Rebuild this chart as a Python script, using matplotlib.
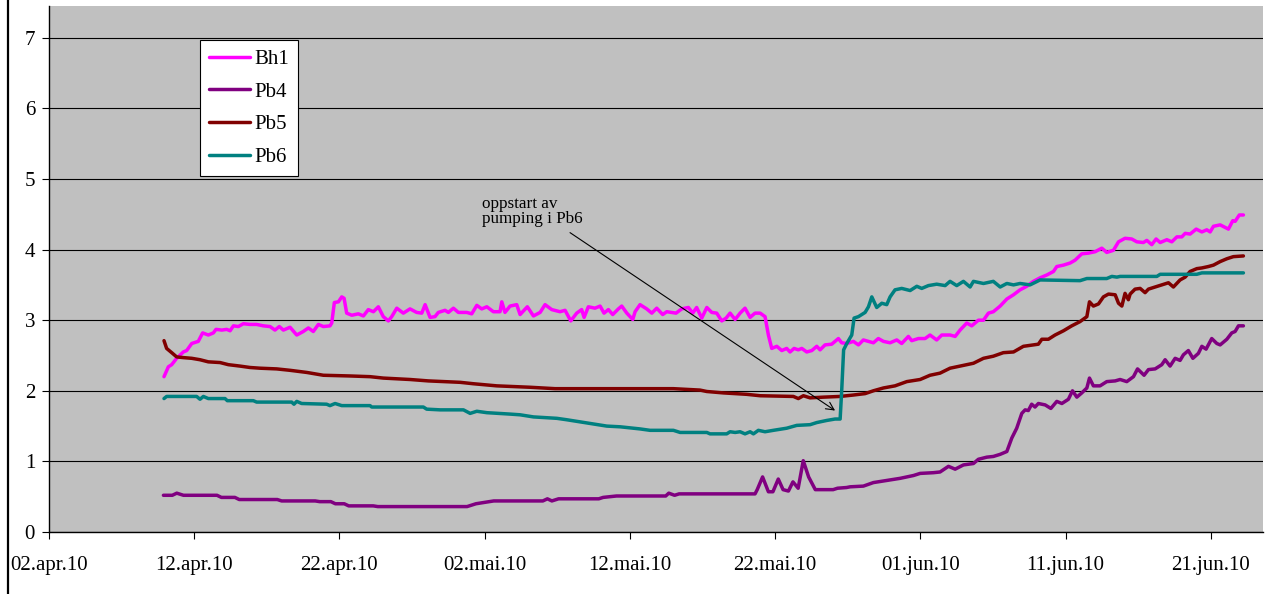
import matplotlib
matplotlib.use("Agg")
import matplotlib.pyplot as plt
import matplotlib.dates as mdates
from matplotlib.lines import Line2D
from matplotlib.ticker import FixedLocator, FixedFormatter
import numpy as np
import pandas as pd

# ---- measurements: days after 02.04.2010 and water level ----
bh1_days = [7.92, 8.22, 8.45, 8.79, 9.25, 9.48, 9.83, 10.28, 10.58, 10.97, 11.32, 11.50, 11.90, 12.24,
            12.47, 12.70, 13.04, 13.38, 13.84, 14.30, 14.76, 15.22, 15.56, 15.86, 16.14, 16.60, 17.06,
            17.51, 17.86, 18.20, 18.55, 18.89, 19.35, 19.47, 19.65, 19.93, 20.16, 20.32, 20.50, 20.85,
            21.30, 21.65, 21.99, 22.34, 22.68, 23.02, 23.37, 23.60, 23.95, 24.40, 24.86, 25.32, 25.67,
            25.90, 26.24, 26.58, 26.81, 27.27, 27.50, 27.85, 28.19, 28.77, 29.11, 29.46, 29.80, 30.15,
            30.60, 31.06, 31.18, 31.40, 31.75, 32.21, 32.44, 32.94, 33.36, 33.82, 34.16, 34.62, 35.19,
            35.54, 35.93, 36.34, 36.68, 36.85, 37.14, 37.60, 37.95, 38.22, 38.52, 38.82, 39.21, 39.44,
            39.79, 40.20, 40.36, 40.70, 41.16, 41.51, 41.85, 42.26, 42.54, 42.88, 43.18, 43.57, 44.03,
            44.33, 44.60, 44.95, 45.30, 45.64, 45.98, 46.33, 46.63, 46.90, 47.25, 47.59, 47.93, 48.28,
            48.62, 48.97, 49.31, 49.54, 49.77, 50.12, 50.46, 50.80, 51.03, 51.31, 51.60, 51.84, 52.18,
            52.53, 52.87, 53.10, 53.44, 53.90, 54.36, 54.59, 54.94, 55.39, 55.74, 56.08, 56.43, 56.77,
            57.11, 57.46, 57.92, 58.38, 58.72, 59.18, 59.41, 59.87, 60.33, 60.67, 61.13, 61.48, 62.05,
            62.40, 62.74, 63.20, 63.54, 64.00, 64.35, 64.69, 65.03, 65.50, 65.96, 66.42, 66.87, 67.33,
            67.79, 68.25, 68.71, 69.17, 69.40, 69.86, 70.32, 70.66, 71.12, 71.58, 72.04, 72.50, 72.84,
            73.30, 73.65, 74.10, 74.56, 74.91, 75.36, 75.60, 75.94, 76.24, 76.52, 76.98, 77.32, 77.67,
            78.01, 78.24, 78.58, 79.00, 79.39, 79.73, 79.96, 80.19, 80.65, 81.22, 81.52, 81.68, 81.97,
            82.25]
bh1_vals = [2.20, 2.34, 2.37, 2.46, 2.55, 2.57, 2.67, 2.70, 2.82, 2.79, 2.82, 2.87, 2.86, 2.87,
            2.85, 2.92, 2.91, 2.95, 2.94, 2.94, 2.92, 2.91, 2.86, 2.91, 2.86, 2.90, 2.79,
            2.84, 2.89, 2.84, 2.94, 2.91, 2.92, 2.96, 3.25, 3.26, 3.33, 3.31, 3.10, 3.07,
            3.09, 3.06, 3.15, 3.12, 3.19, 3.05, 2.99, 3.05, 3.17, 3.10, 3.16, 3.11, 3.10,
            3.22, 3.04, 3.05, 3.11, 3.14, 3.11, 3.17, 3.11, 3.11, 3.09, 3.21, 3.16, 3.19,
            3.12, 3.12, 3.26, 3.11, 3.20, 3.22, 3.08, 3.19, 3.06, 3.11, 3.22, 3.15, 3.12,
            3.14, 2.99, 3.10, 3.15, 3.04, 3.19, 3.17, 3.20, 3.10, 3.15, 3.08, 3.16, 3.20,
            3.10, 3.01, 3.12, 3.22, 3.16, 3.10, 3.17, 3.08, 3.12, 3.11, 3.10, 3.16, 3.18,
            3.10, 3.18, 3.03, 3.18, 3.11, 3.10, 2.99, 3.03, 3.10, 3.01, 3.10, 3.17, 3.04,
            3.10, 3.10, 3.05, 2.79, 2.60, 2.63, 2.57, 2.60, 2.55, 2.60, 2.58, 2.60, 2.55,
            2.57, 2.63, 2.58, 2.65, 2.66, 2.74, 2.68, 2.67, 2.70, 2.65, 2.72, 2.70, 2.68,
            2.74, 2.70, 2.68, 2.72, 2.67, 2.77, 2.71, 2.74, 2.74, 2.79, 2.72, 2.79, 2.79,
            2.77, 2.86, 2.96, 2.92, 3.00, 3.00, 3.10, 3.12, 3.20, 3.30, 3.36, 3.43, 3.48,
            3.55, 3.60, 3.64, 3.69, 3.76, 3.78, 3.81, 3.85, 3.94, 3.95, 3.97, 4.02, 3.96,
            3.99, 4.11, 4.16, 4.15, 4.11, 4.10, 4.13, 4.07, 4.15, 4.10, 4.14, 4.11, 4.18,
            4.18, 4.23, 4.22, 4.29, 4.25, 4.28, 4.25, 4.33, 4.35, 4.29, 4.41, 4.40, 4.49,
            4.49]

pb4_days = [7.88, 8.49, 8.80, 9.26, 11.57, 11.87, 12.80, 13.10, 15.72, 16.02, 18.33, 18.64, 19.41,
            19.72, 20.33, 20.64, 22.33, 22.64, 28.79, 29.40, 30.01, 30.63, 34.01, 34.32, 34.63, 35.09,
            37.86, 38.16, 39.08, 42.47, 42.68, 43.08, 43.39, 48.62, 48.77, 49.14, 49.54, 49.85, 50.22,
            50.55, 50.92, 51.23, 51.59, 51.94, 52.31, 52.77, 54.00, 54.30, 54.92, 55.17, 56.08, 56.77,
            57.69, 58.61, 59.53, 59.99, 60.90, 61.36, 61.94, 62.40, 62.97, 63.66, 64.00, 64.58, 65.03,
            65.50, 65.96, 66.30, 66.64, 66.99, 67.22, 67.44, 67.67, 67.90, 68.13, 68.60, 68.99, 69.40,
            69.75, 70.20, 70.48, 70.78, 71.12, 71.47, 71.65, 71.92, 72.38, 72.84, 73.42, 73.76, 74.22,
            74.68, 74.96, 75.41, 75.71, 76.17, 76.63, 76.86, 77.20, 77.55, 77.89, 78.12, 78.46, 78.77,
            79.15, 79.39, 79.68, 80.07, 80.42, 80.65, 81.11, 81.45, 81.68, 81.91, 82.25]
pb4_vals = [0.52, 0.52, 0.55, 0.52, 0.52, 0.49, 0.49, 0.46, 0.46, 0.44, 0.44, 0.43, 0.43,
            0.40, 0.40, 0.37, 0.37, 0.36, 0.36, 0.40, 0.42, 0.44, 0.44, 0.47, 0.44, 0.47,
            0.47, 0.49, 0.51, 0.51, 0.55, 0.52, 0.54, 0.54, 0.60, 0.78, 0.57, 0.57, 0.75,
            0.60, 0.58, 0.71, 0.62, 1.01, 0.78, 0.60, 0.60, 0.62, 0.63, 0.64, 0.65, 0.70,
            0.73, 0.76, 0.80, 0.83, 0.84, 0.85, 0.93, 0.89, 0.95, 0.97, 1.03, 1.06, 1.07,
            1.10, 1.14, 1.33, 1.47, 1.68, 1.73, 1.72, 1.81, 1.77, 1.82, 1.80, 1.75, 1.85,
            1.82, 1.88, 2.00, 1.91, 1.97, 2.04, 2.18, 2.07, 2.07, 2.13, 2.14, 2.16, 2.13,
            2.20, 2.31, 2.22, 2.30, 2.31, 2.37, 2.44, 2.35, 2.46, 2.43, 2.51, 2.57, 2.46,
            2.53, 2.63, 2.59, 2.74, 2.67, 2.65, 2.73, 2.82, 2.84, 2.92, 2.92]

pb5_days = [7.92, 8.10, 8.45, 8.79, 9.25, 9.83, 10.40, 10.97, 11.78, 12.35, 13.15, 13.84, 14.53,
            15.68, 16.60, 17.75, 18.89, 20.73, 22.11, 23.02, 24.86, 26.12, 28.31, 29.22, 30.83, 33.13,
            34.85, 38.41, 43.00, 44.83, 45.30, 46.44, 48.05, 48.97, 51.26, 51.60, 51.95, 52.41, 53.33,
            54.48, 55.39, 56.20, 56.77, 57.46, 58.26, 59.07, 59.99, 60.67, 61.36, 62.05, 62.97, 63.66,
            64.35, 65.03, 65.72, 66.42, 67.10, 68.13, 68.37, 68.82, 69.28, 69.86, 70.43, 71.00, 71.47,
            71.65, 71.92, 72.27, 72.61, 72.96, 73.42, 73.65, 73.88, 74.10, 74.33, 74.45, 74.79, 75.14,
            75.48, 75.71, 76.17, 76.63, 77.09, 77.43, 77.89, 78.24, 78.58, 79.04, 79.39, 79.84, 80.19,
            80.65, 81.11, 81.56, 82.25]
pb5_vals = [2.71, 2.60, 2.54, 2.48, 2.47, 2.46, 2.44, 2.41, 2.40, 2.37, 2.35, 2.33, 2.32,
            2.31, 2.29, 2.26, 2.22, 2.21, 2.20, 2.18, 2.16, 2.14, 2.12, 2.10, 2.07, 2.05,
            2.03, 2.03, 2.03, 2.01, 1.99, 1.97, 1.95, 1.93, 1.92, 1.89, 1.93, 1.90, 1.91,
            1.92, 1.94, 1.96, 2.00, 2.04, 2.07, 2.13, 2.16, 2.22, 2.25, 2.32, 2.36, 2.39,
            2.46, 2.49, 2.54, 2.55, 2.63, 2.66, 2.73, 2.73, 2.79, 2.85, 2.92, 2.98, 3.05,
            3.26, 3.20, 3.23, 3.33, 3.37, 3.36, 3.24, 3.20, 3.38, 3.29, 3.37, 3.44, 3.45,
            3.39, 3.44, 3.47, 3.50, 3.53, 3.47, 3.57, 3.61, 3.69, 3.73, 3.74, 3.76, 3.78,
            3.83, 3.87, 3.90, 3.91]

pb6_days = [7.92, 8.10, 10.17, 10.40, 10.63, 10.97, 12.12, 12.28, 14.07, 14.30, 16.71, 16.87, 17.06,
            17.40, 19.12, 19.35, 19.70, 20.16, 22.11, 22.22, 25.78, 26.01, 26.93, 28.54, 29.00, 29.46,
            30.15, 31.75, 32.44, 33.36, 34.97, 35.65, 36.57, 37.49, 38.41, 39.33, 40.70, 41.39, 43.00,
            43.46, 45.30, 45.52, 46.67, 46.90, 47.25, 47.59, 47.93, 48.28, 48.51, 48.85, 49.31, 49.88,
            50.80, 51.49, 52.41, 52.87, 53.56, 54.13, 54.48, 54.59, 54.72, 54.94, 55.28, 55.44, 55.74,
            56.20, 56.43, 56.66, 57.00, 57.35, 57.69, 57.92, 58.26, 58.72, 59.30, 59.76, 60.10, 60.56,
            61.13, 61.71, 62.05, 62.51, 62.97, 63.43, 63.66, 64.35, 65.03, 65.50, 65.96, 66.42, 66.87,
            67.56, 68.25, 71.00, 71.47, 72.84, 73.19, 73.54, 73.76, 76.29, 76.52, 79.04, 79.39, 82.25]
pb6_vals = [1.89, 1.92, 1.92, 1.88, 1.92, 1.89, 1.89, 1.86, 1.86, 1.84, 1.84, 1.81, 1.85,
            1.82, 1.81, 1.79, 1.82, 1.79, 1.79, 1.77, 1.77, 1.74, 1.73, 1.73, 1.68, 1.71,
            1.69, 1.67, 1.66, 1.63, 1.61, 1.59, 1.56, 1.53, 1.50, 1.49, 1.46, 1.44, 1.44,
            1.41, 1.41, 1.39, 1.39, 1.42, 1.41, 1.42, 1.39, 1.42, 1.39, 1.44, 1.42, 1.44,
            1.47, 1.51, 1.52, 1.55, 1.58, 1.60, 1.60, 2.01, 2.58, 2.67, 2.79, 3.03, 3.05,
            3.11, 3.19, 3.33, 3.18, 3.24, 3.22, 3.33, 3.43, 3.45, 3.42, 3.48, 3.45, 3.49,
            3.51, 3.49, 3.55, 3.49, 3.55, 3.47, 3.55, 3.52, 3.55, 3.47, 3.52, 3.50, 3.52,
            3.50, 3.57, 3.56, 3.59, 3.59, 3.62, 3.61, 3.62, 3.62, 3.65, 3.65, 3.67, 3.67]

series_names = ["Bh1", "Pb4", "Pb5", "Pb6"]
series_colors = ["#FF00FF", "#800080", "#800000", "#008080"]

month_abbr = {4: "apr", 5: "mai", 6: "jun"}
tick_dates = pd.date_range("2010-04-02", periods=9, freq="10D")
tick_labels = [f"{d.day:02d}.{month_abbr[d.month]}.{d.year % 100}" for d in tick_dates]

# ---- figure ----
plt.rcParams["font.family"] = ["Liberation Serif", "DejaVu Serif"]
fig = plt.figure(figsize=(12.71, 5.94), dpi=100)
fig.patch.set_facecolor("white")
ax = fig.add_axes([49 / 1271, 1 - 532 / 594, (1263 - 49) / 1271, (532 - 6) / 594])
ax.set_facecolor("#C0C0C0")

base = mdates.date2num(pd.Timestamp("2010-04-02"))
all_days = [bh1_days, pb4_days, pb5_days, pb6_days]
all_vals = [bh1_vals, pb4_vals, pb5_vals, pb6_vals]
for name, color, d, v in zip(series_names, series_colors, all_days, all_vals):
    ax.plot(base + np.asarray(d), v, color=color, lw=2.5, label=name,
            solid_joinstyle="round", solid_capstyle="round", zorder=3)

ax.set_xlim(base, base + 83.6)
ax.set_ylim(0, 7.45)

# horizontal grid
ax.set_yticks(range(0, 8))
ax.yaxis.grid(True, color="black", lw=0.8, zorder=1)
ax.set_axisbelow(True)

tick_pos = [mdates.date2num(d) for d in tick_dates]
ax.xaxis.set_major_locator(FixedLocator(tick_pos))
ax.xaxis.set_major_formatter(FixedFormatter(tick_labels))

for side in ["top", "right"]:
    ax.spines[side].set_visible(False)
for side in ["left", "bottom"]:
    ax.spines[side].set_color("black")
    ax.spines[side].set_linewidth(1.0)

ax.tick_params(axis="both", direction="out", length=5, width=0.8, color="black",
               labelsize=15, labelcolor="black")
ax.tick_params(axis="x", pad=12)
ax.tick_params(axis="y", pad=5)

# annotation for pump start
ax.text(base + 29.82, 4.76, "oppstart av\npumping i Pb6", fontsize=12.3,
        va="top", ha="left", color="black", linespacing=0.95, zorder=4)
ax.annotate("", xy=(base + 54.13, 1.72), xytext=(base + 35.88, 4.24),
            arrowprops=dict(arrowstyle="->", lw=0.8, color="black",
                            shrinkA=0, shrinkB=0, mutation_scale=14),
            zorder=4)

leg = ax.legend(loc="upper left", bbox_to_anchor=(200 / 1271, 1 - 40 / 594),
                bbox_transform=fig.transFigure, borderaxespad=0, fontsize=15,
                frameon=True, fancybox=False, shadow=False, handlelength=1.95,
                handletextpad=0.2, labelspacing=0.63, borderpad=0.45)
leg.get_frame().set_edgecolor("black")
leg.get_frame().set_linewidth(0.8)
leg.get_frame().set_facecolor("white")
leg.get_frame().set_alpha(1)

# border line on the left edge of the figure
fig.add_artist(Line2D([8 / 1271, 8 / 1271], [0, 1], transform=fig.transFigure,
                      color="black", lw=1.6))

fig.savefig("out.png", dpi=100, facecolor="white")
